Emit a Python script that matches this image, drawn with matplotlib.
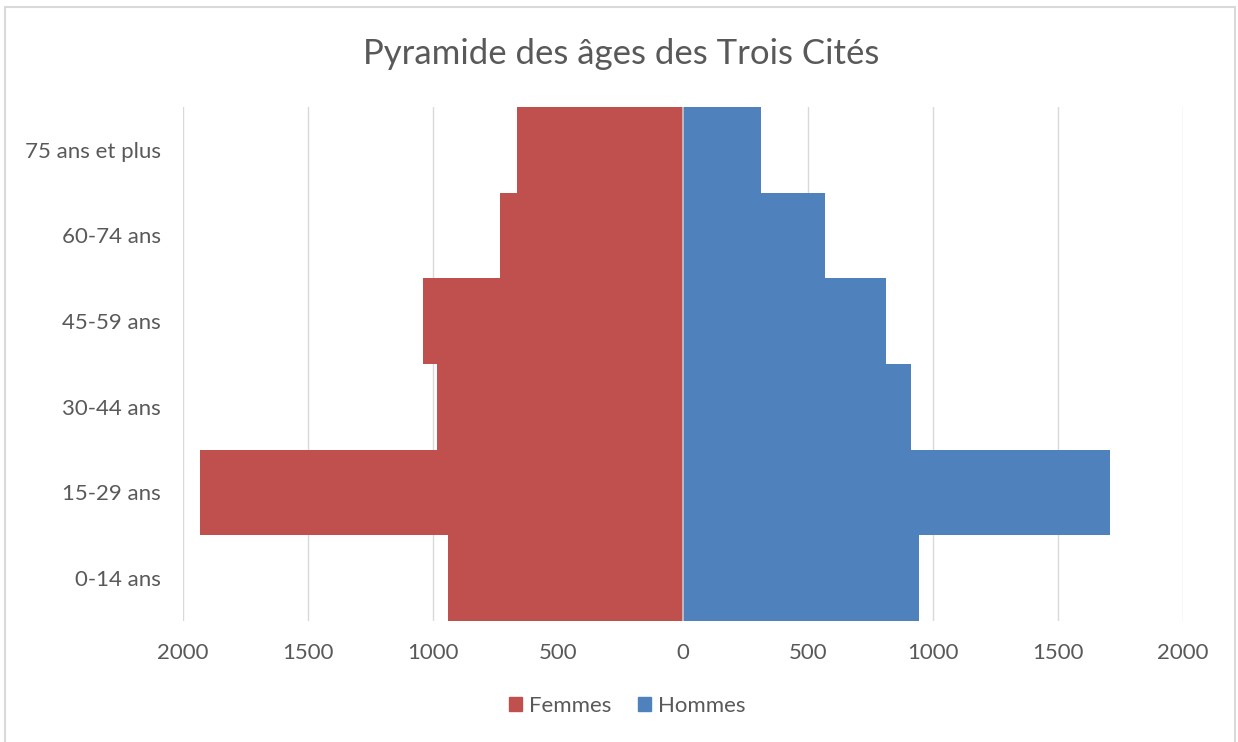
import matplotlib
matplotlib.use("Agg")
import matplotlib.pyplot as plt
from matplotlib.patches import Rectangle, Patch
from matplotlib.ticker import FuncFormatter

# données
classes = ['0-14 ans', '15-29 ans', '30-44 ans', '45-59 ans', '60-74 ans', '75 ans et plus']
femmes = [941, 1932, 983, 1041, 731, 663]
hommes = [944, 1709, 913, 812, 568, 311]

rouge = '#C0504D'
bleu = '#4F81BD'
gris_txt = '#595959'
gris_ligne = '#D9D9D9'

plt.rcParams['font.family'] = ['Lato', 'DejaVu Sans']

fig = plt.figure(figsize=(12.38, 7.42), dpi=100)
ax = fig.add_axes([0.1478, 0.1631, 0.8078, 0.6927])

y = list(range(len(classes)))
ax.barh(y, [-v for v in femmes], height=1.0, color=rouge, label='Femmes', zorder=2)
ax.barh(y, hommes, height=1.0, color=bleu, label='Hommes', zorder=2)
ax.axvline(0, color='#C8C8C8', lw=1.2, zorder=3)

ax.set_xlim(-2000, 2000)
ax.set_ylim(-0.5, 5.5)
ax.set_xticks(range(-2000, 2001, 500))
ax.xaxis.set_major_formatter(FuncFormatter(lambda v, p: f'{abs(int(v))}'))
ax.set_yticks(y)
ax.set_yticklabels(classes)
ax.grid(axis='x', color=gris_ligne, lw=1, zorder=0)
ax.tick_params(length=0, labelsize=16, colors=gris_txt)
ax.tick_params(axis='x', pad=16)
ax.tick_params(axis='y', pad=16)
for s in ax.spines.values():
    s.set_visible(False)

fig.text(0.502, 0.927, 'Pyramide des âges des Trois Cités', ha='center', va='center',
         fontsize=25, color=gris_txt)

handles = [Patch(color=rouge, label='Femmes'), Patch(color=bleu, label='Hommes')]
fig.legend(handles=handles, loc='center', bbox_to_anchor=(0.5065, 0.049), ncol=2,
           frameon=False, fontsize=16, labelcolor=gris_txt, handlelength=0.6,
           handleheight=0.6, handletextpad=0.3, columnspacing=1.2)

fig.patches.append(Rectangle((5 / 1238, -0.01), 1230 / 1238, 1.01 - 7 / 742,
                             transform=fig.transFigure, fill=False,
                             edgecolor=gris_ligne, lw=1.5))

fig.savefig('out.png', dpi=100, facecolor='white')
